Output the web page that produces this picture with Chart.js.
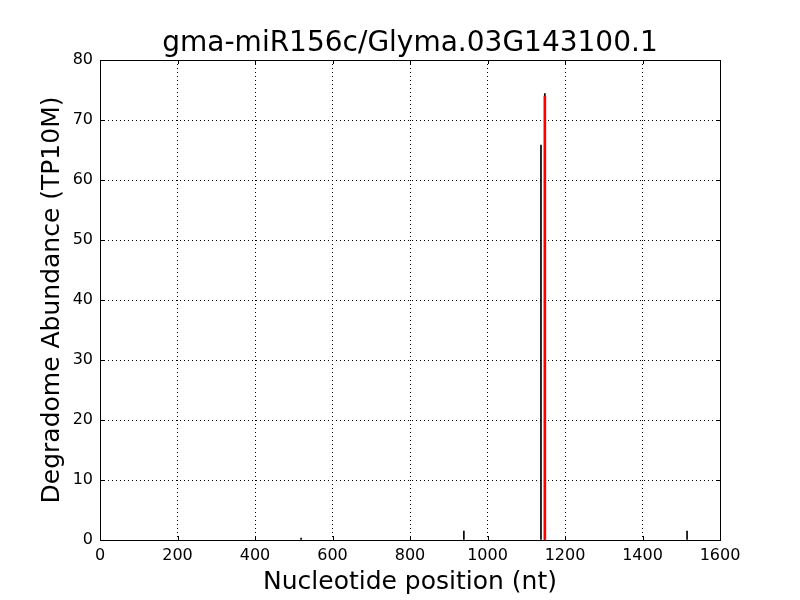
<!DOCTYPE html>
<html>
<head>
<meta charset="utf-8">
<script src="https://cdn.jsdelivr.net/npm/chart.js@4"></script>
<style>
  html, body { margin: 0; padding: 0; background: #fff; }
  #wrap { width: 800px; height: 600px; }
</style>
</head>
<body>
<div id="wrap"><canvas id="degChart" width="800" height="600"></canvas></div>
<script>
const titleText = 'gma-miR156c/Glyma.03G143100.1';
const positions = [519, 939, 1138, 1148, 1515];
const abundances = [0.3, 1.5, 65.8, 74.4, 1.5];
const cleavagePos = [1148];
const cleavageAbund = [74.0];
const xTicks = [0, 200, 400, 600, 800, 1000, 1200, 1400, 1600];
const yTicks = [0, 10, 20, 30, 40, 50, 60, 70, 80];

const fontFamily = '"DejaVu Sans", sans-serif';

// frame + inward ticks like the matplotlib classic look
const framePlugin = {
  id: 'frame',
  afterDatasetsDraw(chart) {
    const { ctx, chartArea: a, scales } = chart;
    ctx.save();
    ctx.strokeStyle = '#000';
    ctx.lineWidth = 1;
    ctx.beginPath();
    xTicks.forEach((t) => {
      const px = Math.round(scales.x.getPixelForValue(t)) + 0.5;
      ctx.moveTo(px, a.bottom); ctx.lineTo(px, a.bottom - 4);
      ctx.moveTo(px, a.top); ctx.lineTo(px, a.top + 4);
    });
    yTicks.forEach((t) => {
      const py = Math.round(scales.y.getPixelForValue(t)) + 0.5;
      ctx.moveTo(a.left, py); ctx.lineTo(a.left + 4, py);
      ctx.moveTo(a.right, py); ctx.lineTo(a.right - 4, py);
    });
    ctx.stroke();
    ctx.strokeRect(a.left + 0.5, a.top + 0.5, a.right - a.left, a.bottom - a.top);
    ctx.restore();
  },
};

const ctx = document.getElementById('degChart').getContext('2d');
new Chart(ctx, {
  type: 'bar',
  data: {
    datasets: [
      {
        label: 'cleavage',
        data: cleavagePos.map((p, i) => ({ x: p, y: cleavageAbund[i] })),
        backgroundColor: '#ff0000',
        barThickness: 2,
      },
      {
        label: 'tags',
        data: positions.map((p, i) => ({ x: p, y: abundances[i] })),
        backgroundColor: '#000000',
        barThickness: 1,
      },
    ],
  },
  options: {
    responsive: false,
    animation: false,
    grouped: false,
    layout: { padding: { top: 0, left: 20, right: 0, bottom: 0 } },
    plugins: {
      legend: { display: false },
      tooltip: { enabled: false },
      title: {
        display: true,
        text: titleText,
        color: '#000',
        font: { family: fontFamily, size: 28, weight: 'normal', lineHeight: 1 },
        padding: { top: 30, bottom: 2 },
      },
    },
    scales: {
      x: {
        type: 'linear',
        min: 0,
        max: 1600,
        offset: false,
        afterFit(scale) { scale.height = 60; },
        afterBuildTicks(scale) { scale.ticks = xTicks.map((v) => ({ value: v })); },
        grid: { color: '#000', lineWidth: 1, drawTicks: false, offset: false },
        border: { display: false, dash: [1, 3] },
        ticks: {
          color: '#000',
          padding: 6,
          maxRotation: 0,
          font: { family: fontFamily, size: 16 },
          callback: (v) => String(v),
        },
        title: {
          display: true,
          text: 'Nucleotide position (nt)',
          color: '#000',
          font: { family: fontFamily, size: 25 },
          padding: { top: 0, bottom: 3 },
        },
      },
      y: {
        min: 0,
        max: 80,
        afterFit(scale) { scale.width = 80; },
        afterBuildTicks(scale) { scale.ticks = yTicks.map((v) => ({ value: v })); },
        grid: { color: '#000', lineWidth: 1, drawTicks: false },
        border: { display: false, dash: [1, 3] },
        ticks: {
          color: '#000',
          padding: 7,
          font: { family: fontFamily, size: 16 },
          callback: (v) => String(v),
        },
        title: {
          display: true,
          text: 'Degradome Abundance (TP10M)',
          color: '#000',
          font: { family: fontFamily, size: 25 },
          padding: { top: 17, bottom: 0 },
        },
      },
      yRight: {
        position: 'right',
        min: 0,
        max: 80,
        afterFit(scale) { scale.width = 80; },
        grid: { display: false, drawTicks: false },
        border: { display: false },
        ticks: { display: false },
      },
    },
  },
  plugins: [framePlugin],
});
</script>
</body>
</html>
